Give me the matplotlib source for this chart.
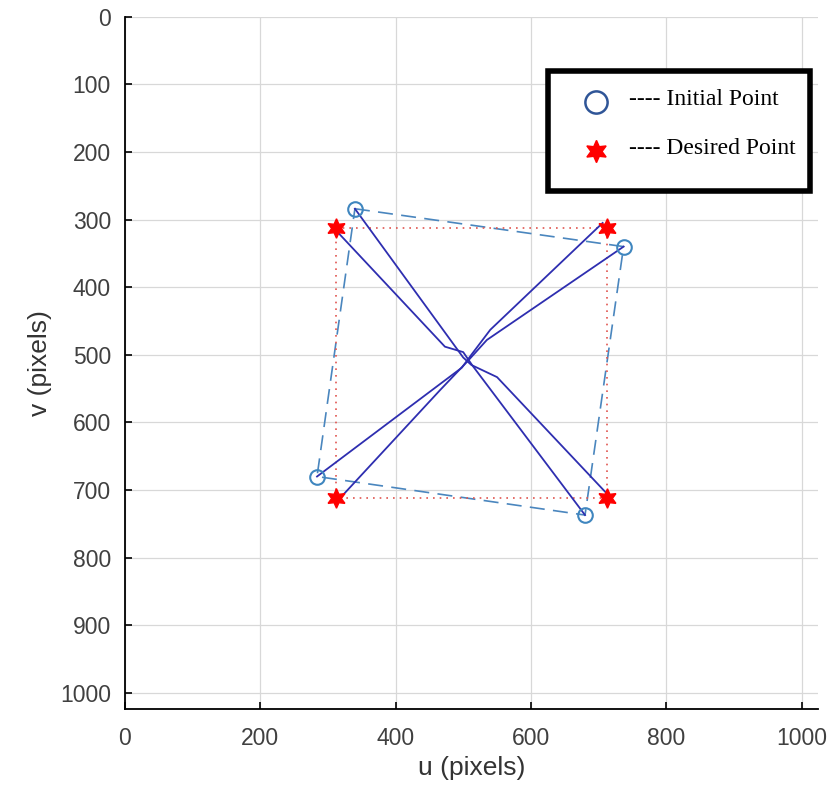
import numpy as np
import matplotlib.pyplot as plt
from matplotlib.patches import Rectangle

# image-plane points (pixels)
desired_u = [312, 712, 712, 312]
desired_v = [312, 312, 712, 712]
initial_u = [340, 737, 680, 284]
initial_v = [284, 340, 737, 680]

# feature trajectories (initial -> centre -> desired)
traj_u = [
    [340, 500, 512, 550, 712],
    [737, 535, 506, 466, 318],
    [680, 513, 500, 473, 312],
    [284, 498, 512, 540, 706],
]
traj_v = [
    [284, 504, 515, 533, 705],
    [340, 478, 510, 552, 712],
    [737, 515, 496, 488, 316],
    [680, 519, 500, 463, 305],
]

fig = plt.figure(figsize=(8.32, 7.95), dpi=100)
ax = fig.add_axes([0.150, 0.108, 0.833, 0.871])

for u, v in zip(traj_u, traj_v):
    ax.plot(u, v, color='#2E2EB0', lw=1.3, zorder=3)

ax.plot(initial_u + initial_u[:1], initial_v + initial_v[:1],
        color='#4A86BE', lw=1.2, ls=(0, (9, 5)), zorder=2)
ax.plot(desired_u + desired_u[:1], desired_v + desired_v[:1],
        color='#E0554F', lw=1.2, ls=(0, (1, 3)), zorder=2)

ax.plot(initial_u, initial_v, 'o', ms=10.5, mfc='none', mec='#3F86BF', mew=1.5, zorder=4)
ax.plot(desired_u, desired_v, marker=(6, 1, 0), ls='none', ms=14,
        color='#FF0000', zorder=4)

ax.set_xlim(0, 1024)
ax.set_ylim(1024, 0)
ax.set_xticks(np.arange(0, 1001, 200))
ax.set_yticks(np.arange(0, 1001, 100))
ax.grid(True, color='#D8D8D8', lw=0.9)
ax.set_axisbelow(True)
for s in ['top', 'right']:
    ax.spines[s].set_visible(False)
for s in ['left', 'bottom']:
    ax.spines[s].set_linewidth(1.3)
ax.tick_params(direction='in', length=5, width=1.2, labelsize=16.5,
               labelcolor='#404040')
ax.tick_params(axis='x', pad=13)
ax.tick_params(axis='y', pad=10)
for lab in ax.get_xticklabels() + ax.get_yticklabels():
    lab.set_family('Liberation Sans')
ax.set_xlabel('u (pixels)', fontsize=19, color='#333333', labelpad=4,
              family='Liberation Sans')
ax.set_ylabel('v (pixels)', fontsize=19, color='#333333', labelpad=6,
              family='Liberation Sans')

# legend box
ax.add_patch(Rectangle((0.610, 0.748), 0.378, 0.173, transform=ax.transAxes,
                       fill=True, facecolor='white', edgecolor='black', lw=4,
                       zorder=6, clip_on=False))
ax.plot([0.680], [0.877], 'o', ms=16, mfc='none', mec='#2F5597', mew=1.8,
        transform=ax.transAxes, clip_on=False, zorder=7)
ax.plot([0.680], [0.806], marker=(6, 1, 0), ms=16, color='#FF0000',
        transform=ax.transAxes, clip_on=False, zorder=7)
ax.text(0.728, 0.881, '---- Initial Point', transform=ax.transAxes,
        fontsize=17, family='Liberation Serif', va='center', zorder=7)
ax.text(0.728, 0.810, '---- Desired Point', transform=ax.transAxes,
        fontsize=17, family='Liberation Serif', va='center', zorder=7)

fig.savefig('out.png', dpi=100)
